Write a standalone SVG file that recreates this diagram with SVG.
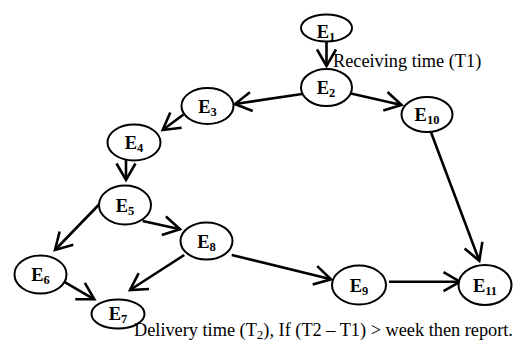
<svg xmlns="http://www.w3.org/2000/svg" width="525" height="341" viewBox="0 0 525 341">
<defs>
<marker id="arr" markerUnits="userSpaceOnUse" markerWidth="40" markerHeight="40" refX="0" refY="0" orient="auto" overflow="visible">
<path d="M-16.5,-9.5 L0,0 L-16.5,9.5" fill="none" stroke="#000" stroke-width="2.6" stroke-linejoin="miter"/>
</marker>
</defs>
<style>
.n ellipse{fill:#fff;stroke:#000;stroke-width:2}
.n text{font-family:"Liberation Serif","Times New Roman",serif;font-weight:bold;font-size:18.5px;fill:#000}
.n tspan.s{font-size:12.5px}
.c line{stroke:#000;stroke-width:2.6;marker-end:url(#arr)}
.lbl{font-family:"Liberation Serif","Times New Roman",serif;font-size:18.3px;fill:#000}
</style>
<g class="c" id="connectors">
<line x1="326.5" y1="41" x2="326.5" y2="66"/>
<line x1="302" y1="94" x2="235" y2="104"/>
<line x1="351" y1="93.5" x2="401.5" y2="105"/>
<line x1="183.5" y1="114.5" x2="162.7" y2="130"/>
<line x1="126" y1="160" x2="126" y2="180"/>
<line x1="100" y1="203.5" x2="55" y2="250"/>
<line x1="142.7" y1="221" x2="180" y2="229.3"/>
<line x1="58.3" y1="278.3" x2="94.3" y2="299.3"/>
<line x1="184.3" y1="255" x2="130" y2="290"/>
<line x1="231.7" y1="255" x2="331" y2="279.3"/>
<line x1="389" y1="281.7" x2="460" y2="281.7"/>
<line x1="430.7" y1="131.5" x2="479.3" y2="260.7"/>
</g>
<g class="n" id="E1"><ellipse cx="326.5" cy="28" rx="25.5" ry="13.5"/><text x="326" y="37.5" text-anchor="middle">E<tspan class="s" dy="3">1</tspan></text></g>
<g class="n" id="E2"><ellipse cx="326.5" cy="87.5" rx="25.5" ry="18.5"/><text x="326" y="94" text-anchor="middle">E<tspan class="s" dy="3">2</tspan></text></g>
<g class="n" id="E3"><ellipse cx="207.5" cy="106" rx="26" ry="18"/><text x="207.5" y="112.5" text-anchor="middle">E<tspan class="s" dy="3">3</tspan></text></g>
<g class="n" id="E4"><ellipse cx="134" cy="142.5" rx="26.5" ry="18"/><text x="134" y="149" text-anchor="middle">E<tspan class="s" dy="3">4</tspan></text></g>
<g class="n" id="E5"><ellipse cx="125" cy="205" rx="26" ry="19.5"/><text x="125" y="211.5" text-anchor="middle">E<tspan class="s" dy="3">5</tspan></text></g>
<g class="n" id="E10"><ellipse cx="427" cy="114.5" rx="25.5" ry="17.5"/><text x="427" y="121" text-anchor="middle">E<tspan class="s" dy="3">10</tspan></text></g>
<g class="n" id="E6"><ellipse cx="40.5" cy="274.5" rx="26" ry="19"/><text x="40.5" y="281" text-anchor="middle">E<tspan class="s" dy="3">6</tspan></text></g>
<g class="n" id="E7"><ellipse cx="118" cy="314" rx="26.5" ry="14.5"/><text x="118" y="319.5" text-anchor="middle">E<tspan class="s" dy="3">7</tspan></text></g>
<g class="n" id="E8"><ellipse cx="206.5" cy="241" rx="26" ry="18.5"/><text x="206.5" y="247.5" text-anchor="middle">E<tspan class="s" dy="3">8</tspan></text></g>
<g class="n" id="E9"><ellipse cx="359" cy="285" rx="27" ry="19.5"/><text x="359" y="291.5" text-anchor="middle">E<tspan class="s" dy="3">9</tspan></text></g>
<g class="n" id="E11"><ellipse cx="485" cy="285" rx="26.5" ry="20"/><text x="485" y="291.5" text-anchor="middle">E<tspan class="s" dy="3">11</tspan></text></g>
<text class="lbl" x="333" y="66.5">Receiving time (T1)</text>
<text class="lbl" x="134" y="336">Delivery time (T<tspan font-size="13" dy="3">2</tspan><tspan dy="-3">), If (T2 – T1) &gt; week then report.</tspan></text>
</svg>
